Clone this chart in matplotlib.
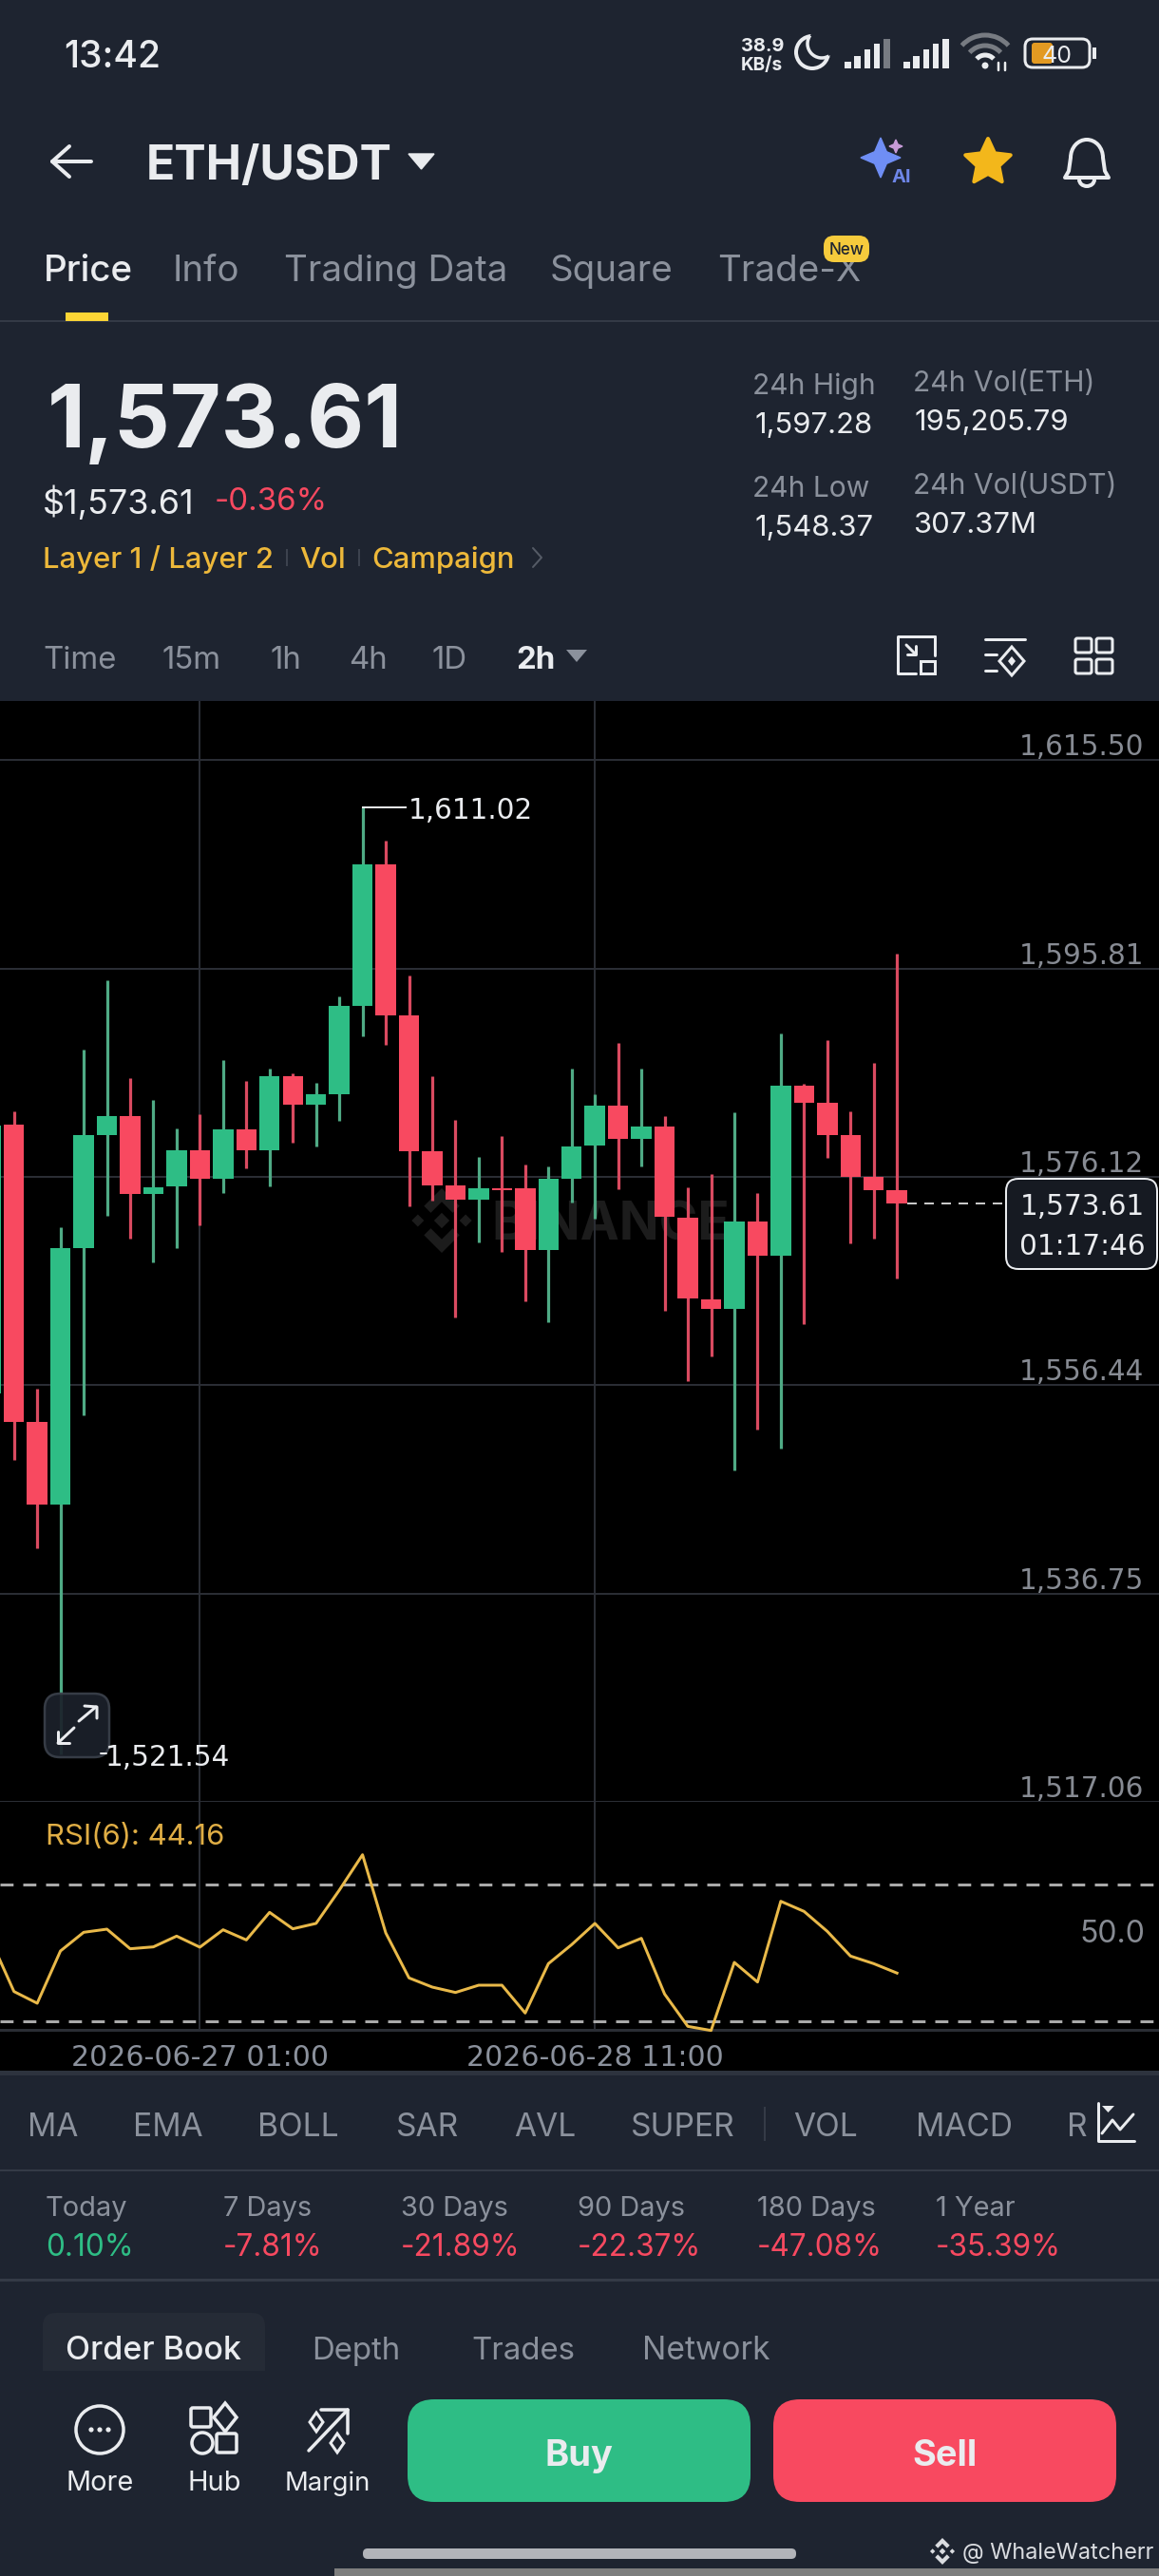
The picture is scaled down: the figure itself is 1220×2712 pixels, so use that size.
import matplotlib
matplotlib.use("Agg")
import matplotlib.pyplot as plt
import numpy as np
from matplotlib.patches import Arc, Circle, FancyBboxPatch, Polygon, Rectangle

W, H = 1220, 2712
plt.rcParams['font.family'] = ['Inter', 'Noto Sans', 'DejaVu Sans']

# 2h candles, left to right, first one is cut by the screen edge
opens = [1555.7, 1581.03, 1552.99, 1545.18, 1569.37, 1580.11, 1581.91, 1574.50, 1575.18, 1578.63,
         1575.98, 1580.59, 1578.63, 1585.68, 1582.92, 1583.96, 1592.25, 1605.64, 1591.37, 1578.51,
         1575.34, 1573.98, 1575.06, 1575.02, 1569.17, 1575.98, 1579.07, 1582.83, 1579.67, 1580.87,
         1572.29, 1564.56, 1563.60, 1571.93, 1568.68, 1584.72, 1583.08, 1580.11, 1576.14, 1574.90]
closes = [1581.0, 1552.99, 1545.18, 1569.39, 1580.10, 1581.91, 1574.50, 1575.14, 1578.63, 1575.98,
          1580.59, 1578.63, 1585.68, 1582.92, 1583.96, 1592.25, 1605.64, 1591.37, 1578.51, 1575.34,
          1573.98, 1575.06, 1574.82, 1569.17, 1575.94, 1579.03, 1582.83, 1579.67, 1580.87, 1572.33,
          1564.60, 1563.60, 1571.93, 1568.68, 1584.72, 1583.08, 1580.11, 1576.14, 1574.90, 1573.61]
highs = [1582.0, 1582.35, 1556.12, 1571.35, 1588.17, 1594.66, 1585.44, 1583.36, 1580.71, 1582.03,
         1587.12, 1585.16, 1586.36, 1585.92, 1585.04, 1593.18, 1611.02, 1607.88, 1595.18, 1585.64,
         1581.55, 1578.03, 1579.99, 1577.30, 1577.10, 1586.32, 1583.96, 1588.77, 1586.36, 1581.91,
         1575.14, 1576.38, 1582.24, 1574.62, 1589.65, 1584.96, 1589.01, 1582.27, 1586.92, 1597.22]
lows = [1552.0, 1549.35, 1541.0, 1521.54, 1553.63, 1572.41, 1570.33, 1568.01, 1569.41, 1571.53,
        1574.62, 1576.94, 1575.22, 1579.39, 1578.99, 1581.39, 1589.45, 1588.57, 1573.38, 1573.90,
        1562.87, 1569.97, 1569.05, 1564.32, 1562.43, 1573.74, 1572.21, 1574.98, 1577.14, 1563.48,
        1556.80, 1559.19, 1548.39, 1552.22, 1550.45, 1562.20, 1577.90, 1569.81, 1570.33, 1566.56]
rsi_values = [53.9, 38.78, 35.36, 50.6, 56.05, 56.97, 51.25, 51.8, 54.94, 51.71,
              56.79, 53.83, 61.87, 57.07, 58.64, 68.34, 78.68, 55.87, 42.75, 40.07,
              38.5, 40.62, 40.62, 32.5, 46.91, 52.45, 58.64, 51.52, 54.3, 38.04,
              28.61, 27.41, 47.27, 41.55, 65.1, 62.15, 56.33, 49.12, 46.91, 44.16]

price_ticks = [1615.50, 1595.81, 1576.12, 1556.44, 1536.75, 1517.06]
rsi_levels = [70, 30]
date_ticks = [9, 26]
date_labels = ['2026-06-27 01:00', '2026-06-28 11:00']
last_price = 1573.61
price_high = 1611.02
price_low = 1521.54

tabs = ['Price', 'Info', 'Trading Data', 'Square', 'Trade-X']
tab_x = [46, 182, 299, 579, 755]
intervals = ['Time', '15m', '1h', '4h', '1D', '2h']
interval_x = [45, 170, 285, 367, 455, 543]
indicators = ['MA', 'EMA', 'BOLL', 'SAR', 'AVL', 'SUPER', 'VOL', 'MACD', 'RSI']
indicator_x = [29, 140, 271, 417, 541, 664, 835, 964, 1123]
period_names = ['Today', '7 Days', '30 Days', '90 Days', '180 Days', '1 Year']
period_values = ['0.10%', '-7.81%', '-21.89%', '-22.37%', '-47.08%', '-35.39%']
period_x = [48, 235, 422, 608, 797, 985]

BG = '#1E2430'
GREEN = '#2EBD85'
RED = '#F84960'
WICK_G = '#4FAA85'
WICK_R = '#D94A60'
GREY = '#8B919C'
WHITE = '#EAECEF'
YELLOW = '#F0B90B'
GRID = '#2A2D34'
LINE = '#343A46'
CHART_FONT = 'DejaVu Sans'
CHART_PX = 29.5


def px_lw(px):
    return px * 0.72


def axes_box(top, bottom):
    return [0, 1 - bottom / H, 1, (bottom - top) / H]


fig = plt.figure(figsize=(W / 100, H / 100), dpi=100, facecolor=BG)

# pixel-coordinate layer under the chart
ui = fig.add_axes([0, 0, 1, 1], zorder=0)
ui.set_xlim(0, W)
ui.set_ylim(H, 0)
ui.axis('off')

# same thing over the chart, for buttons and value boxes
top = fig.add_axes([0, 0, 1, 1], zorder=5)
top.set_xlim(0, W)
top.set_ylim(H, 0)
top.axis('off')
top.patch.set_alpha(0)


def txt(x, y, s, px, color=WHITE, ha='left', weight='normal', ax=ui, zorder=5, family=None):
    # y is the middle of the capitals
    return ax.text(x, y + 0.36 * px, s, fontsize=px * 0.72, color=color, ha=ha, va='baseline',
                   fontweight=weight, zorder=zorder, family=family)


def seg(pts, color=WHITE, lw=3, ax=ui, zorder=4):
    xs, ys = zip(*pts)
    ax.plot(xs, ys, color=color, lw=px_lw(lw), solid_capstyle='round', solid_joinstyle='round', zorder=zorder)


def round_box(x0, y0, x1, y1, r, fc='none', ec='none', lw=0, ax=ui, zorder=2, alpha=None):
    box = FancyBboxPatch((x0 + r, y0 + r), x1 - x0 - 2 * r, y1 - y0 - 2 * r, boxstyle=f'round,pad={r},rounding_size={r}',
                         fc=fc, ec=ec, lw=px_lw(lw), zorder=zorder, alpha=alpha)
    ax.add_patch(box)


def diamond(cx, cy, rx, ry=None, fc='none', ec='none', lw=0, ax=ui, zorder=4):
    ry = rx if ry is None else ry
    ax.add_patch(Polygon([(cx, cy - ry), (cx + rx, cy), (cx, cy + ry), (cx - rx, cy)], closed=True,
                         fc=fc, ec=ec, lw=px_lw(lw), zorder=zorder))


def sparkle(cx, cy, r, fc):
    k = r * 0.3
    ui.add_patch(Polygon([(cx, cy - r), (cx + k, cy - k), (cx + r, cy), (cx + k, cy + k),
                          (cx, cy + r), (cx - k, cy + k), (cx - r, cy), (cx - k, cy - k)],
                         closed=True, fc=fc, ec=fc, lw=1, zorder=4))


def star(cx, cy, r, fc):
    ang = np.deg2rad(np.arange(10) * 36 - 90)
    rad = np.where(np.arange(10) % 2 == 0, r, r * 0.48)
    pts = np.column_stack([cx + rad * np.cos(ang), cy + rad * np.sin(ang)])
    ui.add_patch(Polygon(pts, closed=True, fc=fc, ec=fc, lw=px_lw(4), joinstyle='round', zorder=4))


def binance_logo(cx, cy, r, color, ax=ui, zorder=1):
    s = r * 0.24
    diamond(cx, cy, s, fc=color, ax=ax, zorder=zorder)
    diamond(cx - r * 0.74, cy, s * 0.8, fc=color, ax=ax, zorder=zorder)
    diamond(cx + r * 0.74, cy, s * 0.8, fc=color, ax=ax, zorder=zorder)
    for sign in (-1, 1):
        ax.add_patch(Polygon([(cx, cy + sign * r), (cx + r * 0.55, cy + sign * r * 0.45), (cx + r * 0.34, cy + sign * r * 0.24),
                              (cx, cy + sign * r * 0.58), (cx - r * 0.34, cy + sign * r * 0.24), (cx - r * 0.55, cy + sign * r * 0.45)],
                             closed=True, fc=color, ec='none', zorder=zorder))


# chart background
ui.add_patch(Rectangle((0, 738), W, 2180 - 738, fc='black', ec='none', zorder=1))

# --- status bar
txt(67, 57, '13:42', 39, WHITE, weight='medium')
txt(780, 47, '38.9', 20, WHITE, weight='bold')
txt(780, 67, 'KB/s', 19, WHITE, weight='bold')
ui.add_patch(Circle((855, 55), 17, fc='none', ec=WHITE, lw=px_lw(4), zorder=3))
ui.add_patch(Circle((865, 46), 15, fc=BG, ec='none', zorder=3))
ui.add_patch(Arc((865, 46), 30, 30, theta1=60, theta2=215, color=WHITE, lw=px_lw(3.5), zorder=4))
for x0, dim in ((889, True), (951, False)):
    heights = [7, 13, 20, 26, 31]
    for k, h in enumerate(heights):
        col = '#777B82' if dim and k == 4 else WHITE
        ui.add_patch(Rectangle((x0 + k * 10.3, 72 - h), 6.5, h, fc=col, ec='none', zorder=3))
for r, col, lw in ((33, '#777B82', 5), (22, '#777B82', 5), (12, WHITE, 5)):
    ui.add_patch(Arc((1037, 70), 2 * r, 2 * r, theta1=222, theta2=318, color=col, lw=px_lw(lw), zorder=3))
ui.add_patch(Circle((1037, 69), 3.5, fc=WHITE, ec='none', zorder=3))
seg([(1051, 66), (1051, 74)], WHITE, 2.5)
seg([(1058, 66), (1058, 74)], WHITE, 2.5)
round_box(1079, 41, 1147, 71, 8, ec=WHITE, lw=3)
round_box(1086, 45, 1108, 67, 3, fc='#E39A22')
ui.add_patch(Rectangle((1150, 50), 4, 12, fc=WHITE, ec='none', zorder=3))
txt(1113, 57, '40', 25, WHITE, ha='center')

# --- title row
seg([(96, 170), (55, 170)], WHITE, 4)
seg([(73, 154), (55, 170), (73, 186)], WHITE, 4)
txt(154, 171, 'ETH/USDT', 50, WHITE, weight='bold')
ui.add_patch(Polygon([(430, 162), (457, 162), (443.5, 178)], closed=True, fc=WHITE, ec=WHITE, lw=1, zorder=4))
sparkle(927, 166, 21, '#6F8EF5')
sparkle(943, 154, 7, '#C79BD8')
txt(949, 185, 'AI', 20, '#6E86E8', ha='center', weight='bold')
star(1040, 171, 25, '#F3B71B')
ui.add_patch(Arc((1144, 166), 34, 38, theta1=180, theta2=360, color=WHITE, lw=px_lw(4), zorder=4))
seg([(1127, 166), (1125, 180), (1121, 187), (1167, 187), (1163, 180), (1161, 166)], WHITE, 4)
ui.add_patch(Arc((1144, 189), 16, 14, theta1=0, theta2=180, color=WHITE, lw=px_lw(4), zorder=4))

# --- tabs
for k, (name, x) in enumerate(zip(tabs, tab_x)):
    txt(x, 282, name, 38.5, WHITE if k == 0 else GREY, weight='medium' if k == 0 else 'normal')
ui.add_patch(Rectangle((69, 329), 45, 9, fc='#FCD535', ec='none', zorder=3))
ui.add_patch(Rectangle((0, 337), W, 2, fc=LINE, ec='none', zorder=2))
round_box(867, 248, 915, 276, 11, fc='#F6CB3C', zorder=6)
txt(891, 262, 'New', 17, '#1E2430', ha='center', weight='medium', zorder=7)

# --- price block
txt(50, 438, '1,573.61', 92.5, WHITE, weight='bold')
txt(45, 528, '$1,573.61', 36, WHITE)
txt(226, 525, '-0.36%', 33, RED)
txt(45, 587, 'Layer 1 / Layer 2', 31, '#EDB83A', weight='medium')
txt(315, 587, 'Vol', 31, '#EDB83A', weight='medium')
txt(391, 587, 'Campaign', 31, '#EDB83A', weight='medium')
for x in (301, 377):
    ui.add_patch(Rectangle((x, 578), 1.5, 18, fc='#3C424E', ec='none', zorder=3))
seg([(561, 577), (570, 587), (561, 597)], '#555B66', 2)
txt(792, 404, '24h High', 30, GREY)
txt(794, 445, '1,597.28', 31, WHITE)
txt(792, 512, '24h Low', 30, GREY)
txt(794, 553, '1,548.37', 31, WHITE)
txt(961, 401, '24h Vol(ETH)', 30, GREY)
txt(962, 442, '195,205.79', 31, WHITE)
txt(961, 509, '24h Vol(USDT)', 30, GREY)
txt(961, 550, '307.37M', 31, WHITE)

# --- interval row
for name, x in zip(intervals, interval_x):
    sel = name == '2h'
    txt(x, 692, name, 33, WHITE if sel else GREY, weight='bold' if sel else 'normal')
ui.add_patch(Polygon([(596, 684), (618, 684), (607, 697)], closed=True, fc=GREY, ec='none', zorder=4))
seg([(969, 670), (945, 670), (945, 709), (964, 709)], WHITE, 3)
seg([(984, 670), (984, 690)], WHITE, 3)
seg([(969, 670), (984, 670)], WHITE, 3)
ui.add_patch(Rectangle((969, 696), 15, 13, fc='none', ec=WHITE, lw=px_lw(3), zorder=4))
seg([(954, 679), (964, 689)], WHITE, 3)
seg([(955, 689), (964, 689), (964, 680)], WHITE, 3)
seg([(1037, 673), (1079, 673)], WHITE, 3)
seg([(1037, 689), (1049, 689)], WHITE, 3)
seg([(1037, 706), (1049, 706)], WHITE, 3)
diamond(1065, 696, 13, 15, ec=WHITE, lw=3)
diamond(1065, 696, 4, 5, fc=WHITE)
for x0 in (1132, 1154):
    for y0 in (672, 694):
        round_box(x0, y0, x0 + 17, y0 + 15, 2, ec=WHITE, lw=3)

# --- watermark, behind the candles
binance_logo(465, 1285, 34, '#1C1C1C')
ui.text(517, 1306, 'BINANCE', fontsize=55 * 0.72, color='#1C1C1C', fontweight='bold', ha='left', va='baseline', zorder=1)

# --- candles
idx = np.arange(len(opens)) - 1
x_lim = ((0 - 14.7) / 24.46, (W - 14.7) / 24.46)
opens_a = np.array(opens)
closes_a = np.array(closes)
up = closes_a >= opens_a

ax = fig.add_axes(axes_box(738, 1897), zorder=2)
ax.patch.set_alpha(0)
ax.set_xlim(*x_lim)
ax.set_ylim(1517.06, 1621.09)
for s in ax.spines.values():
    s.set_visible(False)
ax.set_yticks(price_ticks)
ax.set_xticks(np.array(date_ticks) - 1)
ax.tick_params(length=0, labelleft=False, labelbottom=False)
ax.grid(True, color=GRID, lw=px_lw(2))
ax.set_axisbelow(True)
ax.vlines(idx, lows, highs, colors=[WICK_G if u else WICK_R for u in up], lw=px_lw(3.2), zorder=2)
ax.bar(idx, np.abs(closes_a - opens_a), bottom=np.minimum(opens_a, closes_a), width=0.875,
       color=[GREEN if u else RED for u in up], linewidth=0, zorder=3)
label_tr = ax.get_yaxis_transform()
for p in price_ticks:
    ax.text(0.987, p + 0.45, f'{p:,.2f}', transform=label_tr, ha='right', va='baseline', color='#878B93',
            fontsize=CHART_PX * 0.72, family=CHART_FONT, zorder=4)

# extreme labels
hi_x = idx[np.argmax(highs)]
ax.plot([hi_x, hi_x + 1.86], [price_high, price_high], color=WHITE, lw=px_lw(2), zorder=4)
ax.text(hi_x + 1.98, price_high - 1.08, f'{price_high:,.2f}', va='baseline', ha='left', color=WHITE,
        fontsize=CHART_PX * 0.72, family=CHART_FONT, zorder=4)
last_x = idx[-1]
ax.plot([last_x + 0.45, 42.75], [last_price, last_price], color='#C8C8C8', lw=px_lw(2), dashes=(5, 4), zorder=4)

# --- RSI panel
rsi = fig.add_axes(axes_box(1897, 2137), zorder=2)
rsi.patch.set_alpha(0)
rsi.set_xlim(*x_lim)
rsi.set_ylim(27.6, 94.1)
for name, s in rsi.spines.items():
    s.set_visible(name == 'bottom')
    s.set_color(GRID)
    s.set_linewidth(px_lw(3))
rsi.spines['bottom'].set_zorder(1)
rsi.set_yticks([])
rsi.set_xticks(np.array(date_ticks) - 1)
rsi.set_xticklabels(date_labels, color=GREY, fontsize=30 * 0.72, family=CHART_FONT)
rsi.tick_params(length=0, pad=11)
rsi.grid(True, axis='x', color=GRID, lw=px_lw(2))
rsi.set_axisbelow(True)
for level in rsi_levels:
    rsi.axhline(level, color='#A9A9A9', lw=px_lw(3), dashes=(4.6, 3.4), zorder=2)
rsi.plot(idx, rsi_values, color='#E9B949', lw=px_lw(3), clip_on=False, zorder=3)
rsi.text(48 / W, 0.845, f'RSI(6): {rsi_values[-1]}', transform=rsi.transAxes, color='#E0AE45', fontsize=31 * 0.72, va='center', ha='left')
rsi.text(1205 / W, 0.417, '50.0', transform=rsi.transAxes, color='#878B93', fontsize=32 * 0.72, va='center', ha='right')

# --- things on top of the chart
round_box(47, 1783, 115, 1850, 16, fc='#1C212B', ec='#3A404A', lw=2.5, ax=top, zorder=3, alpha=0.93)
seg([(83, 1812), (101, 1797)], WHITE, 3, ax=top, zorder=4)
seg([(89, 1796), (102, 1797), (102, 1809)], WHITE, 3, ax=top, zorder=4)
seg([(78, 1819), (61, 1835)], WHITE, 3, ax=top, zorder=4)
seg([(61, 1823), (61, 1835), (73, 1835)], WHITE, 3, ax=top, zorder=4)
seg([(106, 1846), (112, 1846)], WHITE, 2, ax=top, zorder=4)
txt(111, 1848, f'{price_low:,.2f}', CHART_PX, WHITE, ax=top, family=CHART_FONT)
round_box(1059, 1241, 1218, 1336, 13, fc='#161A22', ec=WHITE, lw=2, ax=top, zorder=3)
txt(1139, 1268, f'{last_price:,.2f}', CHART_PX, WHITE, ha='center', ax=top, family=CHART_FONT)
txt(1139, 1310, '01:17:46', CHART_PX, WHITE, ha='center', ax=top, family=CHART_FONT)

# --- indicator strip
ui.add_patch(Rectangle((0, 2180), W, 5, fc='#2D333E', ec='none', zorder=2))
for name, x in zip(indicators, indicator_x):
    txt(x, 2237, name, 33.5, GREY)
ui.add_patch(Rectangle((804, 2218), 1.5, 36, fc='#353B47', ec='none', zorder=3))
ui.add_patch(Rectangle((1146, 2200), W - 1146, 70, fc=BG, ec='none', zorder=6))
seg([(1156, 2214), (1156, 2254), (1194, 2254)], WHITE, 3, zorder=7)
seg([(1160, 2246), (1171, 2232), (1179, 2242), (1193, 2226)], WHITE, 3, zorder=7)
ui.add_patch(Polygon([(1160, 2217), (1173, 2217), (1166.5, 2224)], closed=True, fc=WHITE, ec='none', zorder=7))
ui.add_patch(Rectangle((0, 2284), W, 1.8, fc=LINE, ec='none', zorder=2))
ui.add_patch(Rectangle((0, 2399), W, 3, fc=LINE, ec='none', zorder=2))

# --- period changes
for name, val, x in zip(period_names, period_values, period_x):
    txt(x, 2323, name, 29, GREY)
    txt(x, 2364, val, 31.5, GREEN if not val.startswith('-') else RED)

# --- bottom tabs
ui.add_patch(FancyBboxPatch((59, 2449), 206, 60, boxstyle='round,pad=14,rounding_size=14', fc='#252B36', ec='none', zorder=2))
ui.add_patch(Rectangle((0, 2496), W, 40, fc=BG, ec='none', zorder=2))
txt(69, 2472, 'Order Book', 34, WHITE, weight='medium', zorder=5)
txt(328, 2472, 'Depth', 33, GREY)
txt(496, 2472, 'Trades', 33, GREY)
txt(676, 2472, 'Network', 33.5, GREY)

# --- bottom bar
ui.add_patch(Circle((105, 2558), 25, fc='none', ec=WHITE, lw=px_lw(3.5), zorder=4))
for dx in (-9, 0, 9):
    ui.add_patch(Circle((105 + dx, 2558), 2.6, fc=WHITE, ec='none', zorder=4))
round_box(201, 2535, 222, 2555, 2, ec=WHITE, lw=3.5, zorder=4)
diamond(237, 2545, 12, 15, ec=WHITE, lw=3.5)
ui.add_patch(Circle((213, 2572), 11, fc='none', ec=WHITE, lw=px_lw(3.5), zorder=4))
round_box(228, 2562, 249, 2582, 2, ec=WHITE, lw=3.5, zorder=4)
seg([(325, 2580), (366, 2537)], WHITE, 3.5)
seg([(338, 2537), (366, 2537), (366, 2562)], WHITE, 3.5)
diamond(333, 2550, 7, 10, ec=WHITE, lw=3)
diamond(355, 2572, 7, 10, ec=WHITE, lw=3)
txt(105, 2612, 'More', 29, WHITE, ha='center')
txt(226, 2612, 'Hub', 29, WHITE, ha='center')
txt(345, 2612, 'Margin', 27.5, WHITE, ha='center')

round_box(429, 2526, 790, 2634, 28, fc=GREEN, zorder=3)
round_box(814, 2526, 1175, 2634, 28, fc=RED, zorder=3)
txt(609, 2582, 'Buy', 38, WHITE, ha='center', weight='bold')
txt(994, 2582, 'Sell', 38, WHITE, ha='center', weight='bold')

round_box(382, 2683, 838, 2694, 5, fc='#B2B4B9', zorder=3)
ui.add_patch(Rectangle((352, 2704), W - 352, 8, fc='#7E7E7E', ec='none', zorder=3))
binance_logo(992, 2686, 14, '#DADCE0', zorder=4)
txt(1013, 2686, '@ WhaleWatcherr', 23.5, '#DADCE0')

fig.savefig('out.png', dpi=100, facecolor=BG)
